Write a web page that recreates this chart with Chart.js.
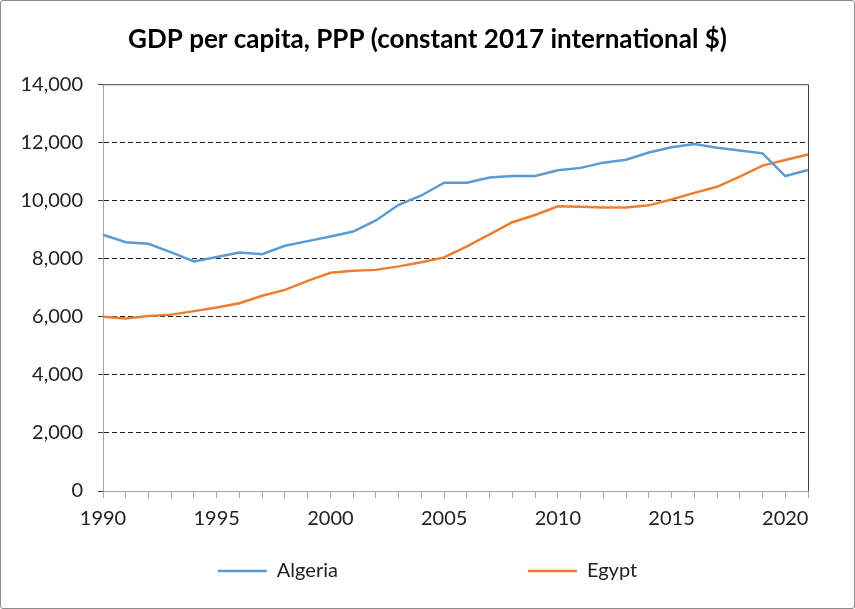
<!DOCTYPE html>
<html>
<head>
<meta charset="utf-8">
<script src="https://cdn.jsdelivr.net/npm/chart.js@4.4.1/dist/chart.umd.min.js"></script>
<style>
  html, body { margin: 0; padding: 0; background: #fff; }
  #box { width: 855px; height: 609px; box-sizing: border-box; border: 1px solid #8c8c8c; border-radius: 3px; }
</style>
</head>
<body>
<div id="box"><canvas id="gdpChart" width="853" height="607"></canvas></div>
<script>
const years = [1990, 1991, 1992, 1993, 1994, 1995, 1996, 1997, 1998, 1999,
  2000, 2001, 2002, 2003, 2004, 2005, 2006, 2007, 2008, 2009,
  2010, 2011, 2012, 2013, 2014, 2015, 2016, 2017, 2018, 2019, 2020, 2021];

const algeria = [8820, 8560, 8510, 8210, 7900, 8050, 8210, 8150, 8440, 8600,
  8760, 8930, 9310, 9850, 10170, 10610, 10610, 10790, 10840, 10840,
  11040, 11120, 11300, 11400, 11650, 11830, 11940, 11810, 11720, 11620, 10840, 11050];

const egypt = [6000, 5935, 6020, 6070, 6190, 6315, 6460, 6720, 6920, 7230,
  7510, 7580, 7610, 7730, 7870, 8040, 8420, 8830, 9250, 9500,
  9800, 9780, 9760, 9760, 9830, 10030, 10260, 10470, 10820, 11200, 11390, 11580];

const yTicks = [0, 2000, 4000, 6000, 8000, 10000, 12000, 14000];

const FONT = "Lato, 'Open Sans', sans-serif";

// top and right edge of the plot area
const plotBorder = {
  id: 'plotBorder',
  afterDraw(chart) {
    const { ctx, chartArea: a } = chart;
    ctx.save();
    ctx.strokeStyle = '#404040';
    ctx.lineWidth = 1;
    ctx.beginPath();
    ctx.moveTo(a.left, a.top + 0.5);
    ctx.lineTo(a.right + 0.5, a.top + 0.5);
    ctx.lineTo(a.right + 0.5, a.bottom);
    ctx.stroke();
    ctx.restore();
  }
};

// legend uses a wide item gap (padding), which also pushes the row down; put it back
const legendShift = {
  id: 'legendShift',
  afterLayout(chart) {
    const lg = chart.legend;
    lg.top = 560 - lg.options.labels.padding;
  }
};

const ctx = document.getElementById('gdpChart').getContext('2d');
new Chart(ctx, {
  type: 'line',
  data: {
    labels: years,
    datasets: [{
      label: 'Algeria',
      data: algeria,
      borderColor: '#5b9bd5',
      backgroundColor: '#5b9bd5',
      borderWidth: 2.5,
      pointRadius: 0,
      tension: 0
    }, {
      label: 'Egypt',
      data: egypt,
      borderColor: '#ed7d31',
      backgroundColor: '#ed7d31',
      borderWidth: 2.5,
      pointRadius: 0,
      tension: 0
    }]
  },
  options: {
    responsive: false,
    animation: false,
    layout: { padding: 0 },
    plugins: {
      title: {
        display: true,
        text: 'GDP per capita, PPP (constant 2017 international $)',
        color: '#000',
        font: { family: FONT, size: 26, weight: 'bold' },
        padding: { top: 23, bottom: 29 }
      },
      legend: {
        position: 'bottom',
        maxHeight: 73,
        labels: {
          color: '#222',
          font: { family: FONT, size: 20 },
          usePointStyle: true,
          pointStyle: 'line',
          pointStyleWidth: 49,
          padding: 190
        }
      },
      tooltip: { enabled: false }
    },
    scales: {
      x: {
        type: 'category',
        offset: false,
        afterFit(scale) { scale.height = 44; },
        grid: { drawOnChartArea: false, drawTicks: true, tickLength: 7, tickColor: '#a6a6a6' },
        border: { color: '#a6a6a6', width: 1 },
        ticks: {
          autoSkip: false,
          maxRotation: 0,
          minRotation: 0,
          padding: 9,
          color: '#222',
          font: { family: FONT, size: 20 },
          callback(value) {
            const y = years[value];
            return y % 5 === 0 ? String(y) : '';
          }
        }
      },
      y: {
        min: 0,
        max: 14000,
        afterFit(scale) { scale.width = 102; },
        afterBuildTicks(scale) { scale.ticks = yTicks.map(v => ({ value: v })); },
        grid: {
          color: c => (c.tick && (c.tick.value === 0 || c.tick.value === 14000)) ? 'rgba(0,0,0,0)' : '#202020',
          lineWidth: 1,
          drawTicks: true,
          tickLength: 5,
          tickColor: '#404040'
        },
        border: { color: '#a6a6a6', width: 1, dash: [5, 3] },
        ticks: {
          padding: 15,
          color: '#222',
          font: { family: FONT, size: 20 }
        }
      },
      // empty right-hand spacer so the plot ends where the reference does
      spacer: {
        type: 'linear',
        position: 'right',
        display: true,
        afterFit(scale) { scale.width = 46; },
        grid: { display: false, drawTicks: false },
        border: { display: false },
        ticks: { display: false }
      }
    }
  },
  plugins: [plotBorder, legendShift]
});
</script>
</body>
</html>
